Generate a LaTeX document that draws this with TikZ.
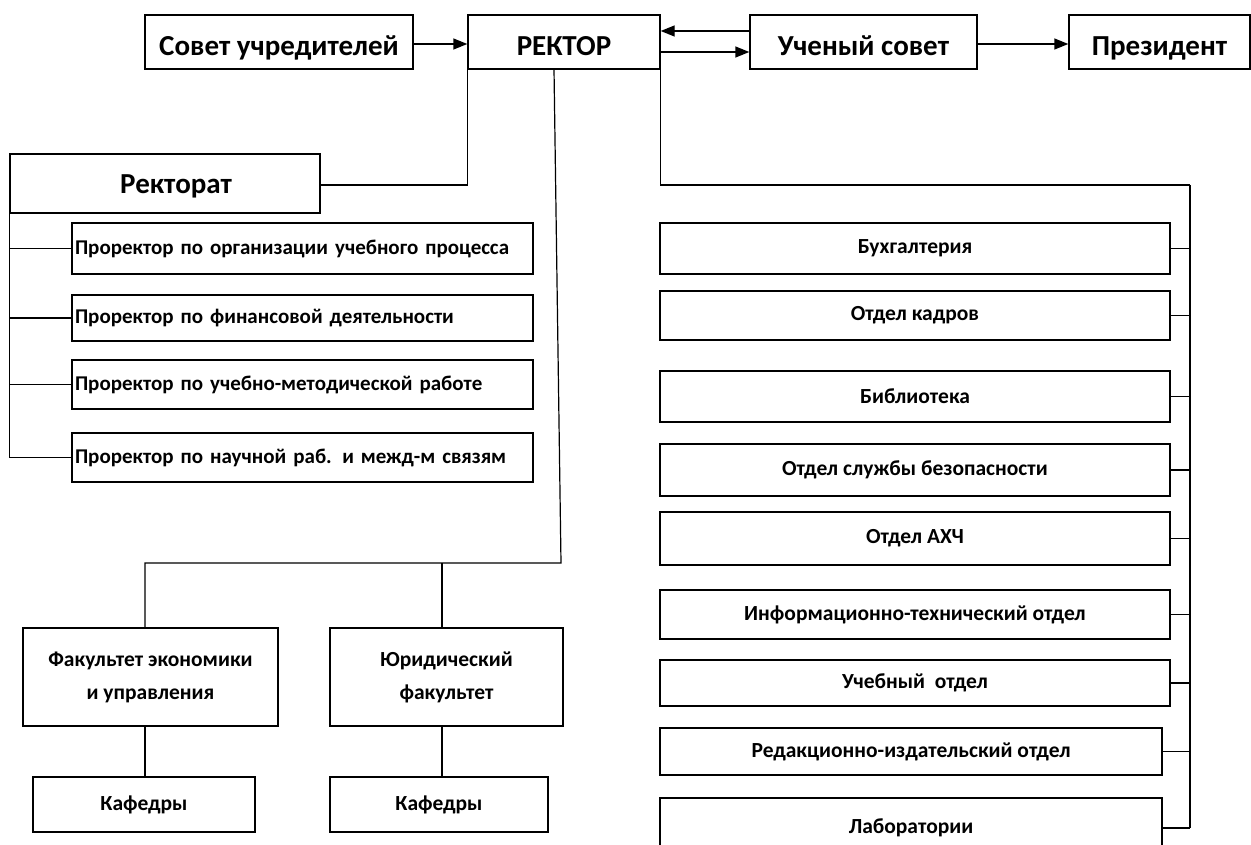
\documentclass[tikz,border=0pt]{standalone}
\usepackage{fontspec}
\setmainfont{Carlito}
\usetikzlibrary{positioning, arrows.meta, calc}

\tikzset{
    box/.style={draw, line width=1.4pt, inner sep=2pt, align=center},
    topbox/.style={box, minimum height=54pt, text height=38pt, text depth=10pt, font=\bfseries\fontsize{29}{33}\selectfont},
    prorbox/.style={box, minimum width=461pt, text width=455pt, align=left, font=\bfseries\fontsize{21}{24}\selectfont},
    deptbox/.style={box, font=\bfseries\fontsize{21.5}{24}\selectfont},
    facbox/.style={box, font=\bfseries\fontsize{21.5}{33}\selectfont},
    link/.style={line width=1.2pt},
    arr/.style={line width=1.4pt, -{Triangle[length=14pt, width=11pt]}}
}

\begin{document}
\begin{tikzpicture}[x=1pt, y=-1pt]
    \useasboundingbox (0,0) rectangle (1251,845);

    % top row
    \node[topbox, minimum width=268pt] (sovet) at (279,42) {Совет учредителей};
    \node[topbox, minimum width=192pt] (rector) at (564,42) {РЕКТОР};
    \node[topbox, minimum width=227pt] (usovet) at (863.5,42) {Ученый совет};
    \node[topbox, minimum width=181pt] (prez) at (1159.5,42) {Президент};

    \draw[arr] (sovet.east |- 0,44) -- (rector.west |- 0,44);
    \draw[arr] (usovet.west |- 0,31) -- (rector.east |- 0,31);
    \draw[arr] (rector.east |- 0,52) -- (usovet.west |- 0,52);
    \draw[arr] (usovet.east |- 0,44) -- (prez.west |- 0,44);

    % rectorate
    \node[topbox, minimum width=310pt, minimum height=59pt, text height=30pt] (rektorat) at (165,183.5) {\hspace*{22pt}Ректорат};
    \draw[link] (rector.south west) |- (rektorat.east |- 0,185);

    \foreach \name/\cy/\h/\txt in {
        pr1/248.5/51/Проректор по организации учебного процесса,
        pr2/318/46/Проректор по финансовой деятельности,
        pr3/384.5/49/Проректор по учебно-методической работе,
        pr4/457.5/49/Проректор по научной раб. и межд-м связям}
    {
        \node[prorbox, minimum height=\h pt] (\name) at (302.5,\cy) {\txt};
        \draw[link] (\name.west) -- (rektorat.south west |- \name.west);
    }
    \draw[link] (rektorat.south west) -- (rektorat.south west |- pr4.west);

    % faculties
    \coordinate (fork) at (561,563);
    \node[facbox, minimum width=255pt, minimum height=98pt] (fac1) at (150.5,677) {Факультет экономики\\и управления};
    \node[facbox, minimum width=233pt, minimum height=98pt] (fac2) at (446.5,677) {Юридический\\факультет};
    \node[facbox, minimum width=222pt, minimum height=55pt] (kaf1) at (144,804.5) {Кафедры};
    \node[facbox, minimum width=218pt, minimum height=55pt] (kaf2) at (439,804.5) {Кафедры};

    \draw[link] (554,69) -- (fork) -- (145,563) -- (145,563 |- fac1.north);
    \draw[link] (442,563) -- (442,563 |- fac2.north);
    \draw[link] (145,563 |- fac1.south) -- (145,563 |- kaf1.north);
    \draw[link] (442,563 |- fac2.south) -- (442,563 |- kaf2.north);

    % departments
    \coordinate (bus) at (1190,185);
    \draw[link] (rector.south east) |- (bus);

    \foreach \name/\cx/\w/\cy/\h/\txt in {
        buh/915/510/248.5/51/Бухгалтерия,
        kadr/915/510/315.5/49/Отдел кадров,
        bibl/915/510/396.5/51/Библиотека,
        sb/915/510/470/52/Отдел службы безопасности,
        axc/915/510/538.5/53/Отдел АХЧ,
        it/915/510/614.5/49/Информационно-технический отдел,
        ucheb/915/510/683/46/Учебный~ отдел,
        red/911/502/751.5/47/Редакционно-издательский отдел,
        lab/911/502/828/60/Лаборатории}
    {
        \node[deptbox, minimum width=\w pt, minimum height=\h pt] (\name) at (\cx,\cy) {\txt};
        \draw[link] (\name.east) -- (bus |- \name.east);
    }
    \draw[link] (bus) -- (bus |- lab.east);
\end{tikzpicture}
\end{document}
